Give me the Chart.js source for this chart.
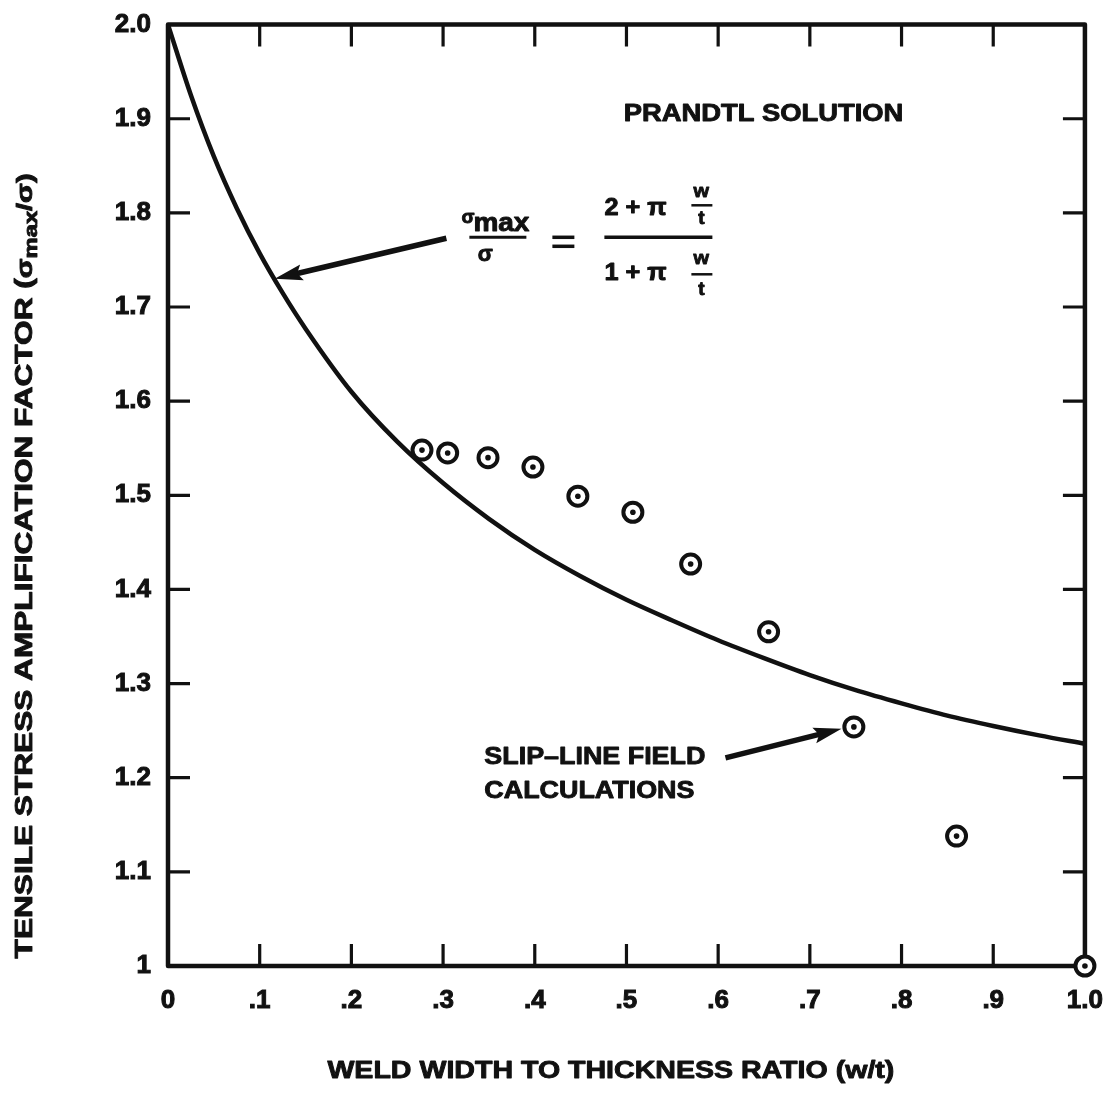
<!DOCTYPE html>
<html><head><meta charset="utf-8">
<script src="https://cdn.jsdelivr.net/npm/chart.js@4.4.1/dist/chart.umd.min.js"></script>
<style>html,body{margin:0;padding:0;background:#fff;}canvas{display:block;}</style>
</head><body>
<canvas id="c" width="1114" height="1093"></canvas>
<script>
// Prandtl solution curve
const curveX = [0,0.025,0.05,0.075,0.1,0.125,0.15,0.2,0.25,0.3,0.35,0.4,0.45,0.5,0.55,0.6,0.65,0.7,0.75,0.8,0.85,0.9,0.95,1.0];
const curveY = [2.0,1.925,1.86,1.805,1.757,1.715,1.677,1.61,1.557,1.513,1.475,1.442,1.414,1.389,1.367,1.346,1.327,1.309,1.293,1.279,1.266,1.255,1.245,1.236];
// Slip-line field calculations
const slipX = [0.277,0.305,0.349,0.398,0.447,0.507,0.570,0.655,0.748,0.860,1.0];
const slipY = [1.548,1.545,1.540,1.530,1.499,1.482,1.427,1.355,1.254,1.138,1.0];
// Axis ticks
const xTickValues = [0,0.1,0.2,0.3,0.4,0.5,0.6,0.7,0.8,0.9,1.0];
const xTickLabels = ['0','.1','.2','.3','.4','.5','.6','.7','.8','.9','1.0'];
const yTickValues = [1,1.1,1.2,1.3,1.4,1.5,1.6,1.7,1.8,1.9,2.0];
const yTickLabels = ['1','1.1','1.2','1.3','1.4','1.5','1.6','1.7','1.8','1.9','2.0'];

const INK = '#111';
const FAM = '"Liberation Sans", Arial, Helvetica, sans-serif';

function txt(ctx, s, x, y, size, sx, align){
  ctx.save();
  ctx.font = 'bold ' + size + 'px ' + FAM;
  const w = ctx.measureText(s).width * sx;
  const x0 = align === 'center' ? x - w/2 : (align === 'right' ? x - w : x);
  ctx.translate(x0, y); ctx.scale(sx, 1);
  ctx.textAlign = 'left'; ctx.textBaseline = 'alphabetic';
  ctx.fillStyle = INK; ctx.strokeStyle = INK; ctx.lineWidth = 0.9; ctx.lineJoin = 'round';
  ctx.fillText(s, 0, 0); ctx.strokeText(s, 0, 0);
  ctx.restore();
  return w;
}
function line(ctx, x1, y1, x2, y2, w){
  ctx.save(); ctx.strokeStyle = INK; ctx.lineWidth = w; ctx.lineCap = 'butt';
  ctx.beginPath(); ctx.moveTo(x1,y1); ctx.lineTo(x2,y2); ctx.stroke(); ctx.restore();
}
function arrow(ctx, x1, y1, x2, y2){
  const a = Math.atan2(y2-y1, x2-x1), L = 28, H = 8;
  const bx = x2 - L*Math.cos(a), by = y2 - L*Math.sin(a);
  line(ctx, x1, y1, bx + 6*Math.cos(a), by + 6*Math.sin(a), 5.5);
  ctx.save(); ctx.fillStyle = INK; ctx.beginPath();
  ctx.moveTo(x2, y2);
  ctx.lineTo(bx + H*Math.sin(a), by - H*Math.cos(a));
  ctx.lineTo(bx + 5*Math.cos(a), by + 5*Math.sin(a));
  ctx.lineTo(bx - H*Math.sin(a), by + H*Math.cos(a));
  ctx.closePath(); ctx.fill(); ctx.restore();
}

const frame = {
  id: 'frame',
  beforeDatasetsDraw(chart){
    const {ctx, chartArea: a, scales: {x, y}} = chart;
    ctx.save(); ctx.strokeStyle = INK;
    ctx.lineWidth = 3.2;
    ctx.beginPath();
    xTickValues.forEach(v => {
      if (v <= 0 || v >= 1) return;
      const p = x.getPixelForValue(v);
      ctx.moveTo(p, a.bottom); ctx.lineTo(p, a.bottom - 22);
      ctx.moveTo(p, a.top); ctx.lineTo(p, a.top + 22);
    });
    yTickValues.forEach(v => {
      if (v <= 1 || v >= 2) return;
      const p = y.getPixelForValue(v);
      ctx.moveTo(a.left, p); ctx.lineTo(a.left + 22, p);
      ctx.moveTo(a.right, p); ctx.lineTo(a.right - 22, p);
    });
    ctx.stroke();
    ctx.lineWidth = 4.5; ctx.lineJoin = 'round';
    ctx.strokeRect(a.left, a.top, a.right - a.left, a.bottom - a.top);
    ctx.restore();
  }
};

const notes = {
  id: 'notes',
  afterDatasetsDraw(chart){
    const {ctx, scales: {x, y}} = chart;
    const P = (xv, yv) => [x.getPixelForValue(xv), y.getPixelForValue(yv)];
    // PRANDTL SOLUTION
    let p = P(0.497, 1.898); txt(ctx, 'PRANDTL SOLUTION', p[0], p[1], 24, 1.14, 'left');
    // slip-line label
    p = P(0.345, 1.215); txt(ctx, 'SLIP\u2013LINE FIELD', p[0], p[1], 24, 1.12, 'left');
    p = P(0.345, 1.178); txt(ctx, 'CALCULATIONS', p[0], p[1], 24, 1.12, 'left');
    // arrows
    let t = P(0.3036, 1.773), h = P(0.1164, 1.730); arrow(ctx, t[0], t[1], h[0], h[1]);
    const t2 = P(0.608, 1.221), h2 = P(0.7345, 1.252); arrow(ctx, t2[0], t2[1], h2[0], h2[1]);
    // formula, anchored at arrow tail
    const ax = t[0], ay = t[1];
    txt(ctx, '\u03c3', ax + 15, ay - 15, 19, 1.0, 'left');
    txt(ctx, 'max', ax + 27, ay - 7, 25, 1.12, 'left');
    line(ctx, ax + 23, ay - 1, ax + 80, ay - 1, 3);
    txt(ctx, '\u03c3', ax + 39, ay + 23, 22, 1.0, 'center');
    line(ctx, ax + 106, ay - 1, ax + 128, ay - 1, 3.5);
    line(ctx, ax + 106, ay + 8, ax + 128, ay + 8, 3.5);
    txt(ctx, '2 + \u03c0', ax + 158, ay - 23, 23, 1.1, 'left');
    txt(ctx, 'w', ax + 255, ay - 41, 19, 1.05, 'center');
    line(ctx, ax + 245, ay - 33, ax + 266, ay - 33, 2.5);
    txt(ctx, 't', ax + 255, ay - 14, 19, 1.0, 'center');
    line(ctx, ax + 158, ay - 1, ax + 266, ay - 1, 3.5);
    txt(ctx, '1 + \u03c0', ax + 158, ay + 42, 23, 1.1, 'left');
    txt(ctx, 'w', ax + 255, ay + 26, 19, 1.05, 'center');
    line(ctx, ax + 245, ay + 36, ax + 266, ay + 36, 2.5);
    txt(ctx, 't', ax + 255, ay + 57, 19, 1.0, 'center');
    // x-axis title
    p = P(0.483, 0.881);
    txt(ctx, 'WELD WIDTH TO THICKNESS RATIO (w/t)', p[0], p[1], 24, 1.19, 'center');
    // y-axis title (rotated) with subscript
    const cy = y.getPixelForValue(1.425);
    const parts = [
      {s: 'TENSILE STRESS AMPLIFICATION FACTOR (', size: 24, dy: 0},
      {s: '\u03c3', size: 22, dy: 0},
      {s: 'max', size: 18, dy: 5},
      {s: '/\u03c3)', size: 22, dy: 0}
    ];
    let total = 0;
    parts.forEach(q => { ctx.font = 'bold ' + q.size + 'px ' + FAM; q.w = ctx.measureText(q.s).width; total += q.w; });
    const sx = 785 / total;
    ctx.save();
    ctx.translate(24, cy); ctx.rotate(-Math.PI/2);
    let cx = -total * sx / 2;
    parts.forEach(q => { txt(ctx, q.s, cx, 8 + q.dy, q.size, sx, 'left'); cx += q.w * sx; });
    ctx.restore();
  }
};

const tickFont = {family: FAM, size: 26, weight: 'bold'};

new Chart(document.getElementById('c'), {
  type: 'scatter',
  data: {
    datasets: [
      {
        label: 'Prandtl solution',
        data: curveX.map((v, i) => ({x: v, y: curveY[i]})),
        showLine: true, borderColor: INK, borderWidth: 4.5,
        pointRadius: 0, cubicInterpolationMode: 'monotone', fill: false, clip: false,
        order: 3
      },
      {
        label: 'Slip-line field calculations',
        data: slipX.map((v, i) => ({x: v, y: slipY[i]})),
        pointStyle: 'circle', pointRadius: 9.5, borderWidth: 4,
        borderColor: INK, backgroundColor: '#fff', clip: false,
        order: 2
      },
      {
        label: 'centres',
        data: slipX.map((v, i) => ({x: v, y: slipY[i]})),
        pointStyle: 'circle', pointRadius: 2.8, borderWidth: 0,
        backgroundColor: INK, clip: false,
        order: 1
      }
    ]
  },
  options: {
    responsive: false, animation: false,
    layout: {padding: {top: 22, right: 27, left: 0, bottom: 0}},
    plugins: {legend: {display: false}, tooltip: {enabled: false}},
    scales: {
      x: {
        type: 'linear', min: 0, max: 1,
        afterBuildTicks: s => { s.ticks = xTickValues.map(v => ({value: v})); },
        afterFit: s => { s.height = 127; },
        grid: {display: false}, border: {display: false},
        ticks: {callback: (v, i) => xTickLabels[i], font: tickFont, color: INK, textStrokeColor: INK, textStrokeWidth: 1, padding: 11, autoSkip: false, maxRotation: 0}
      },
      y: {
        type: 'linear', min: 1, max: 2,
        afterBuildTicks: s => { s.ticks = yTickValues.map(v => ({value: v})); },
        afterFit: s => { s.width = 168; },
        grid: {display: false}, border: {display: false},
        ticks: {callback: (v, i) => yTickLabels[i], font: tickFont, color: INK, textStrokeColor: INK, textStrokeWidth: 1, padding: 9, autoSkip: false}
      }
    }
  },
  plugins: [frame, notes]
});
</script>
</body></html>
